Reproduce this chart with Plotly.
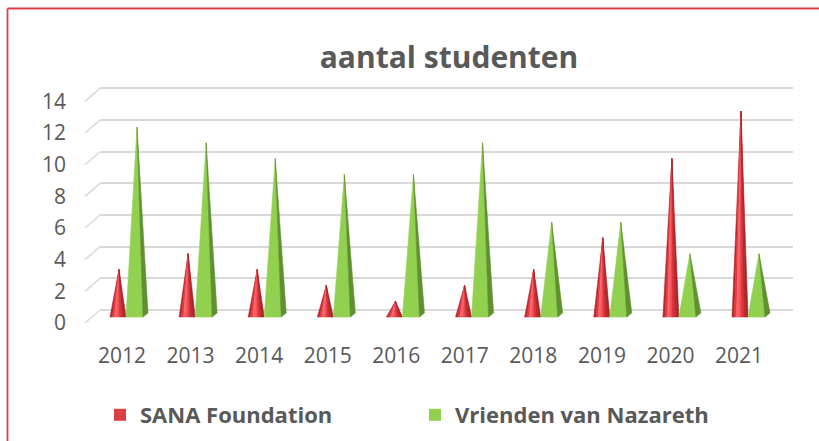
import plotly.graph_objects as go

years = ["2012", "2013", "2014", "2015", "2016", "2017", "2018", "2019", "2020", "2021"]
sana = [3, 4, 3, 2, 1, 2, 3, 5, 10, 13]
vrienden = [12, 11, 10, 9, 9, 11, 6, 6, 4, 4]
y_ticks = [0, 2, 4, 6, 8, 10, 12, 14]

FONT = "Open Sans"
GREY = "#595959"

# geometry (pixels)
W, H = 819, 441
ML, MR, MT, MB = 100, 26, 80, 111
PW, PH = W - ML - MR, H - MT - MB
PX_CAT = 68.56          # px per category
PX_UNIT = 15.83         # px per value unit
X0 = -(122 - ML) / PX_CAT
X1 = X0 + PW / PX_CAT


def u(px):
    return px / PX_CAT


def yrange(zero_px):
    a = -((MT + PH) - zero_px) / PX_UNIT
    return [a, a + PH / PX_UNIT]


def px_x(p):
    return (p - ML) / PW


def px_y(p):
    return (MT + PH - p) / PH


fig = go.Figure()

red_cols = ["#b8262c", "#e0393f", "#ff6468", "#f5535a", "#dc363c", "#c02a30", "#a82428"]
n = len(red_cols)
for k, col in enumerate(red_cols):
    xs, ys = [], []
    for i, v in enumerate(sana):
        c = i + u(-4 + 0.55 * i)
        left = c - u(8)
        w = u(16)
        xa = left + w * k / n
        xb = left + w * (k + 1) / n
        tip = c + u(1)
        xs += [xa, xb, tip, xa, None]
        ys += [0, 0, v, 0, None]
    fig.add_trace(go.Scatter(x=xs, y=ys, mode="lines", fill="toself", fillcolor=col,
                             line=dict(width=0.6, color=col), yaxis="y2",
                             showlegend=False, hoverinfo="skip"))

gx_f, gy_f, gx_s, gy_s = [], [], [], []
for i, v in enumerate(vrienden):
    c = i + u(0.55 * i)
    gx_f += [c + u(4), c + u(21), c + u(15), c + u(4), None]
    gy_f += [0, 0, v, 0, None]
    gx_s += [c + u(21), c + u(26), c + u(15), c + u(21), None]
    gy_s += [0, 0.25, v, 0, None]
fig.add_trace(go.Scatter(x=gx_f, y=gy_f, mode="lines", fill="toself", fillcolor="#92d050",
                         line=dict(width=0.6, color="#92d050"), yaxis="y2",
                         showlegend=False, hoverinfo="skip"))
fig.add_trace(go.Scatter(x=gx_s, y=gy_s, mode="lines", fill="toself", fillcolor="#5f9130",
                         line=dict(width=0.6, color="#5f9130"), yaxis="y2",
                         showlegend=False, hoverinfo="skip"))

# invisible traces to activate grid and label axes
fig.add_trace(go.Scatter(x=[None], y=[None], yaxis="y", showlegend=False, hoverinfo="skip"))
fig.add_trace(go.Scatter(x=[None], y=[None], yaxis="y3", showlegend=False, hoverinfo="skip"))

# legend entries
fig.add_trace(go.Scatter(x=[None], y=[None], mode="markers", name="<b>SANA Foundation</b>",
                         marker=dict(symbol="square", size=14, color="#d94040")))
fig.add_trace(go.Scatter(x=[None], y=[None], mode="markers", name="<b>Vrienden van Nazareth</b>",
                         marker=dict(symbol="square", size=14, color="#92d050")))

LABEL_ZERO = 323
# perspective connectors from label plane to back wall
shapes = []
for t in y_ticks:
    shapes.append(dict(type="line", xref="paper", yref="y3",
                       x0=-15 / PW, y0=t, x1=0, y1=t + (LABEL_ZERO - 310) / PX_UNIT,
                       line=dict(color="#d9d9d9", width=1.5)))
# chart frame (only left and top edges are visible in the crop)
frame = dict(color="#e04048", width=1.8)
shapes.append(dict(type="line", xref="paper", yref="paper", x0=px_x(7.5), x1=px_x(7.5),
                   y0=px_y(H), y1=px_y(8.5), line=frame, layer="below"))
shapes.append(dict(type="line", xref="paper", yref="paper", x0=px_x(7.5), x1=px_x(W),
                   y0=px_y(8.5), y1=px_y(8.5), line=frame, layer="below"))

fig.update_layout(
    width=W, height=H,
    margin=dict(l=ML, r=MR, t=MT, b=MB, pad=0, autoexpand=False),
    paper_bgcolor="white", plot_bgcolor="white",
    font=dict(family=FONT, color=GREY),
    title=dict(text="<b>aantal studenten</b>", x=px_x(449), xref="paper", xanchor="center",
               y=1 - 57 / H, yref="container", yanchor="middle",
               font=dict(size=30, family=FONT, color=GREY)),
    xaxis=dict(range=[X0, X1], tickvals=list(range(len(years))), ticktext=years,
               showgrid=False, zeroline=False, showline=False, ticks="",
               tickfont=dict(size=21, color=GREY), ticklabelstandoff=11),
    yaxis=dict(range=yrange(310), tickvals=y_ticks, showticklabels=False,
               showgrid=True, gridcolor="#d9d9d9", gridwidth=2, zeroline=False, ticks=""),
    yaxis2=dict(range=yrange(317), overlaying="y", visible=False),
    yaxis3=dict(range=yrange(LABEL_ZERO), overlaying="y", tickvals=y_ticks, showgrid=False,
                zeroline=False, ticks="", tickfont=dict(size=21, color=GREY),
                ticklabelstandoff=33),
    legend=dict(orientation="h", x=0, xanchor="left", yref="container", y=1 - 415 / H,
                yanchor="middle",
                font=dict(size=22, color=GREY, family=FONT), entrywidth=270,
                itemsizing="constant"),
    shapes=shapes,
    showlegend=True,
)

fig.write_html("out.html", post_script="document.body.style.margin='0';",
               config={"displayModeBar": False})
